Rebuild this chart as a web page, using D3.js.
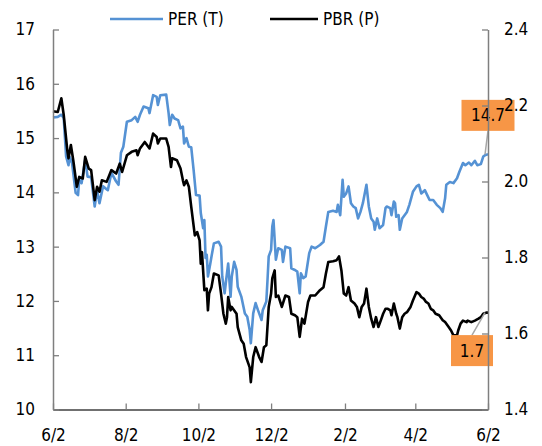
<!DOCTYPE html>
<html>
<head>
<meta charset="utf-8">
<script src="https://cdn.jsdelivr.net/npm/d3@7"></script>
<style>
  body { margin: 0; background: #fff; }
  svg text { font-family: "DejaVu Sans Condensed", "DejaVu Sans", sans-serif; font-stretch: condensed; font-size: 17px; fill: #000; }
</style>
</head>
<body>
<svg id="chart" width="542" height="446"></svg>
<script>
// start of the period (6/2)
var startDate = new Date(2022, 5, 2);

// PER (T), left axis -- days after 6/2
var perDays = [0,4,7,9,11,13,14,16,19,21,22,24,27,29,32,35,37,39,42,46,49,53,55,57,59,62,66,69,71,73,76,80,81,84,87,88,90,95,97,98,100,102,105,107,109,110,112,114,116,118,120,123,124,126,127,128,129,130,132,133,135,139,141,142,144,145,147,149,150,152,154,155,158,161,163,165,166,168,170,172,175,176,179,180,181,183,184,185,187,189,192,193,195,199,200,203,205,207,208,210,212,215,217,220,224,227,229,231,235,238,239,241,243,244,246,248,250,252,254,256,258,260,263,265,267,269,270,272,274,277,279,280,283,284,286,287,288,290,291,293,295,297,299,302,305,307,309,312,314,316,319,322,325,327,329,330,333,336,339,341,344,346,349,351,354,356,359,361,363,365];
var perVals = [15.38,15.39,15.43,15.37,14.66,14.50,14.65,14.54,13.99,13.95,14.23,14.17,14.60,14.29,14.28,13.74,14.04,13.80,14.11,14.04,14.36,14.20,14.14,14.73,14.84,15.30,15.33,15.39,15.30,15.43,15.58,15.55,15.46,15.79,15.76,15.61,15.79,15.80,15.46,15.24,15.43,15.36,15.33,15.18,15.21,14.90,15.00,14.84,14.83,14.41,13.95,13.94,13.62,13.34,13.49,12.79,12.85,12.45,12.69,12.82,13.06,13.09,13.00,12.45,12.14,12.33,12.69,12.08,12.45,12.72,12.57,12.26,12.08,11.77,11.71,11.47,11.22,11.77,11.96,11.83,11.65,11.83,11.99,12.39,12.82,12.94,13.37,13.49,12.76,12.97,12.94,12.72,13.00,12.97,12.60,12.57,12.54,12.14,12.51,12.42,12.45,12.88,13.00,12.97,13.03,13.09,13.37,13.64,13.66,13.64,13.77,13.58,14.23,13.92,13.98,14.11,13.80,13.74,13.71,13.52,13.64,13.80,14.14,13.74,13.52,13.46,13.31,13.52,13.34,13.40,13.71,13.74,13.71,13.58,13.83,13.80,13.55,13.58,13.31,13.52,13.58,13.64,13.77,14.01,14.11,14.14,13.98,14.04,13.95,13.86,13.86,13.77,13.71,13.64,13.89,14.14,14.19,14.17,14.26,14.38,14.54,14.50,14.55,14.50,14.58,14.50,14.52,14.66,14.69,14.70];

// PBR (P), right axis
var pbrDays = [0,4,7,9,12,13,15,17,20,22,25,27,30,32,35,37,39,41,45,49,53,56,58,62,66,70,71,73,77,81,84,87,88,90,95,97,99,100,104,107,109,110,112,114,116,119,121,123,124,125,127,129,130,131,133,135,139,141,143,145,146,147,149,150,154,155,158,160,162,164,165,166,168,170,173,175,177,179,181,183,184,186,187,189,192,195,198,200,203,205,207,209,211,214,216,220,224,227,229,231,235,238,240,242,244,246,248,250,253,255,257,259,261,263,265,267,269,271,273,275,277,279,281,283,284,286,288,289,291,293,295,297,300,302,305,307,309,311,313,315,317,319,321,324,327,329,332,334,336,339,340,342,344,347,348,351,354,357,359,361,364,365];
var pbrVals = [2.185,2.183,2.219,2.175,2.082,2.061,2.096,2.056,1.986,2.012,2.008,2.065,2.034,2.030,1.951,1.986,1.973,2.003,1.999,2.030,2.021,2.047,2.025,2.069,2.078,2.082,2.069,2.087,2.104,2.087,2.126,2.117,2.100,2.113,2.113,2.091,2.038,2.061,2.056,2.034,2.003,1.990,2.003,1.986,1.933,1.858,1.867,1.845,1.784,1.814,1.714,1.718,1.661,1.705,1.722,1.758,1.753,1.705,1.652,1.626,1.643,1.696,1.661,1.670,1.652,1.617,1.582,1.573,1.538,1.520,1.511,1.472,1.538,1.564,1.538,1.525,1.564,1.569,1.670,1.705,1.745,1.766,1.696,1.700,1.670,1.700,1.696,1.652,1.648,1.643,1.591,1.639,1.626,1.683,1.700,1.700,1.714,1.722,1.758,1.788,1.790,1.793,1.803,1.766,1.705,1.700,1.722,1.687,1.679,1.670,1.643,1.670,1.679,1.718,1.670,1.639,1.617,1.643,1.617,1.634,1.652,1.665,1.665,1.661,1.648,1.679,1.652,1.643,1.613,1.643,1.652,1.656,1.670,1.687,1.709,1.705,1.696,1.692,1.683,1.679,1.665,1.661,1.652,1.648,1.635,1.630,1.617,1.608,1.595,1.595,1.608,1.626,1.634,1.630,1.634,1.630,1.634,1.639,1.643,1.652,1.655,1.655];

var tickMonths = [0, 2, 4, 6, 8, 10, 12];
var tickLabels = ["6/2", "8/2", "10/2", "12/2", "2/2", "4/2", "6/2"];
var leftTicks = [10, 11, 12, 13, 14, 15, 16, 17];
var rightTicks = [1.4, 1.6, 1.8, 2.0, 2.2, 2.4];
var seriesNames = ["PER (T)", "PBR (P)"];

var perColor = "#5592d4";
var axisColor = "#7f7f7f";
var boxColor = "#f79646";

var svg = d3.select("#chart");
var margin = {top: 29.5, right: 54, bottom: 36.5, left: 53};
var width = 542 - margin.left - margin.right,
    height = 446 - margin.top - margin.bottom;

var g = svg.append("g")
    .attr("transform", "translate(" + margin.left + "," + margin.top + ")");

var x = d3.scaleTime()
    .domain([startDate, d3.timeMonth.offset(startDate, 12)])
    .range([0, width]);
var yLeft = d3.scaleLinear().domain([10, 17]).range([height, 0]);
var yRight = d3.scaleLinear().domain([1.4, 2.4]).range([height, 0]);

var per = perDays.map(function(d, i) { return {date: d3.timeDay.offset(startDate, d), value: perVals[i]}; });
var pbr = pbrDays.map(function(d, i) { return {date: d3.timeDay.offset(startDate, d), value: pbrVals[i]}; });

// lines
var perLine = d3.line().x(d => x(d.date)).y(d => yLeft(d.value));
var pbrLine = d3.line().x(d => x(d.date)).y(d => yRight(d.value));

g.append("path").datum(per)
    .attr("d", perLine)
    .attr("fill", "none")
    .attr("stroke", perColor)
    .attr("stroke-width", 2.6)
    .attr("stroke-linejoin", "round");

g.append("path").datum(pbr)
    .attr("d", pbrLine)
    .attr("fill", "none")
    .attr("stroke", "#000")
    .attr("stroke-width", 2.6)
    .attr("stroke-linejoin", "round");

// axes
var tickDates = tickMonths.map(m => d3.timeMonth.offset(startDate, m));

var xAxis = g.append("g")
    .attr("transform", "translate(0," + height + ")")
    .call(d3.axisBottom(x).tickValues(tickDates)
      .tickFormat((d, i) => tickLabels[i])
      .tickSizeInner(-6).tickSizeOuter(0).tickPadding(19));

var leftAxis = g.append("g")
    .call(d3.axisLeft(yLeft).tickValues(leftTicks)
      .tickFormat(d3.format("d"))
      .tickSizeInner(-6).tickSizeOuter(0).tickPadding(18));

var rightAxis = g.append("g")
    .attr("transform", "translate(" + width + ",0)")
    .call(d3.axisRight(yRight).tickValues(rightTicks)
      .tickFormat(d3.format(".1f"))
      .tickSizeInner(-6).tickSizeOuter(0).tickPadding(16));

[xAxis, leftAxis, rightAxis].forEach(function(a) {
  a.selectAll("path.domain").attr("stroke", axisColor).attr("stroke-width", 1.5);
  a.selectAll(".tick line").attr("stroke", axisColor).attr("stroke-width", 1.3);
  a.selectAll("text").attr("font-size", null).attr("font-family", null);
});
xAxis.selectAll("path.domain").attr("stroke", "#404040");

// end-value callouts
var lastPer = per[per.length - 1], lastPbr = pbr[pbr.length - 1];
var callouts = [
  {px: x(lastPer.date), py: yLeft(lastPer.value), dx: 0, dy: -39, w: 53, h: 31, text: d3.format(".1f")(lastPer.value)},
  {px: x(lastPbr.date), py: yRight(lastPbr.value), dx: -16, dy: 38, w: 42, h: 31, text: d3.format(".1f")(lastPbr.value)}
];

var co = g.append("g").selectAll("g").data(callouts).enter().append("g");
co.append("line")
    .attr("x1", d => d.px - 3).attr("y1", d => d.py)
    .attr("x2", d => d.px + d.dx).attr("y2", d => d.py + d.dy + (d.dy < 0 ? d.h / 2 : -d.h / 2))
    .attr("stroke", "#a6a6a6").attr("stroke-width", 1.5);
co.append("rect")
    .attr("x", d => d.px + d.dx - d.w / 2).attr("y", d => d.py + d.dy - d.h / 2)
    .attr("width", d => d.w).attr("height", d => d.h)
    .attr("fill", boxColor);
co.append("text")
    .attr("x", d => d.px + d.dx).attr("y", d => d.py + d.dy)
    .attr("dy", "0.36em").attr("text-anchor", "middle")
    .text(d => d.text);

rightAxis.raise();

// legend
var legend = svg.append("g").attr("transform", "translate(110,19)");
var legendItems = legend.selectAll("g").data(seriesNames).enter().append("g")
    .attr("transform", (d, i) => "translate(" + (i * 160) + ",0)");
legendItems.append("line")
    .attr("x1", 0).attr("x2", (d, i) => i === 0 ? 53 : 48)
    .attr("stroke", (d, i) => i === 0 ? perColor : "#000")
    .attr("stroke-width", 2.6);
legendItems.append("text")
    .attr("x", (d, i) => i === 0 ? 58 : 53)
    .attr("dy", "0.35em")
    .text(d => d);
</script>
</body>
</html>
